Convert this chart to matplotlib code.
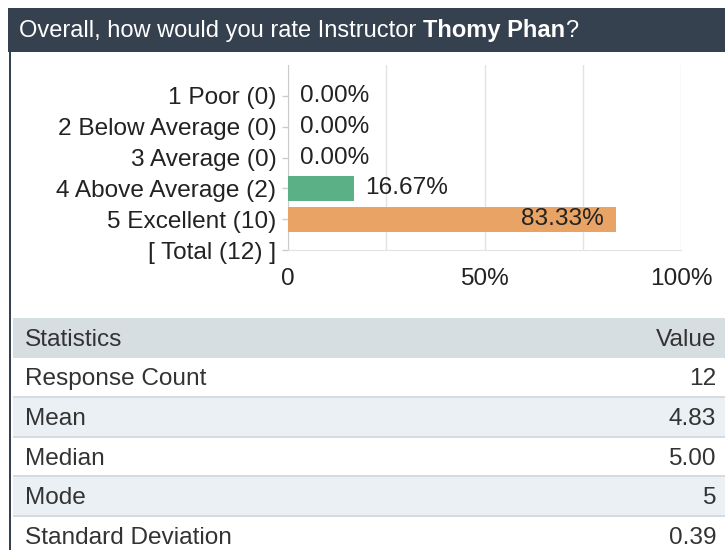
import matplotlib
matplotlib.use("Agg")
import matplotlib.pyplot as plt
from matplotlib.patches import Rectangle
import numpy as np

plt.rcParams['font.family'] = ['Liberation Sans', 'DejaVu Sans']

# ---- data ----
rating_labels = ["1 Poor", "2 Below Average", "3 Average", "4 Above Average", "5 Excellent"]
rating_counts = [0, 0, 0, 2, 10]
bar_colors = ["#5b9bd5", "#d9534f", "#9b59b6", "#5cb085", "#e9a465"]
xtick_values = [0, 0.5, 1.0]
xtick_labels = ["0", "50%", "100%"]
stat_names = ["Response Count", "Mean", "Median", "Mode", "Standard Deviation"]
stat_values = ["12", "4.83", "5.00", "5", "0.39"]
title_plain = "Overall, how would you rate Instructor "
title_bold = "Thomy Phan"
title_end = "?"

W, H = 725, 550
fig = plt.figure(figsize=(W / 100, H / 100), dpi=100)
fig.patch.set_facecolor("white")

def fx(x):
    return x / W

def fy(y):
    return 1 - y / H

DARK = "#36414f"
FS = 17.6
FT = 17

# header
fig.add_artist(Rectangle((fx(8), fy(52)), fx(725 - 8), (52 - 8) / H,
                         transform=fig.transFigure, color=DARK, lw=0, zorder=0))
# left border
fig.add_artist(Rectangle((fx(8.5), 0), 2.5 / W, fy(52),
                         transform=fig.transFigure, color=DARK, lw=0, zorder=0))

# title with bold name
renderer = fig.canvas.get_renderer()
t1 = fig.text(fx(19), fy(31), title_plain, color="white", fontsize=FT, va="center", ha="left")
bb = t1.get_window_extent(renderer=renderer)
t2 = fig.text(bb.x1 / W, fy(31), title_bold, color="white", fontsize=FT,
              fontweight="bold", va="center", ha="left")
bb2 = t2.get_window_extent(renderer=renderer)
fig.text(bb2.x1 / W, fy(31), title_end, color="white", fontsize=FT, va="center", ha="left")

# chart axes
left, right, top, bottom = 288, 681, 65, 250
ax = fig.add_axes([fx(left), fy(bottom), (right - left) / W, (bottom - top) / H])
ax.set_facecolor("white")

total = sum(rating_counts)
pcts = [c / total for c in rating_counts]
cat_labels = [f"{l} ({c})" for l, c in zip(rating_labels, rating_counts)] + [f"[ Total ({total}) ]"]
ypos = np.arange(len(cat_labels))

ax.barh(ypos[:len(pcts)], pcts, height=0.8, color=bar_colors, zorder=3)
ax.set_xlim(0, 1)
ax.set_ylim(5, -1)
ax.set_yticks(ypos)
ax.set_yticklabels(cat_labels, fontsize=FS, color="#222222")
ax.set_xticks(xtick_values)
ax.set_xticklabels(xtick_labels, fontsize=FS, color="#222222")
ax.set_xticks([0.25, 0.75], minor=True)
ax.tick_params(axis="y", length=4.3, width=1, color="#cccccc", pad=4)
ax.tick_params(axis="x", which="both", length=0, pad=13)
ax.grid(axis="x", which="both", color="#e3e3e3", lw=1, zorder=0)
for s in ["top", "right"]:
    ax.spines[s].set_visible(False)
ax.spines["left"].set_color("#cccccc")
ax.spines["bottom"].set_color("#e3e3e3")

for y, p in zip(ypos, pcts):
    txt = f"{p * 100:.2f}%"
    if p > 0.5:
        ax.annotate(txt, (p, y), xytext=(-12, 0), textcoords="offset pixels",
                    ha="right", va="center", fontsize=FS, color="#222222", zorder=4)
    else:
        ax.annotate(txt, (p, y), xytext=(12, 0), textcoords="offset pixels",
                    ha="left", va="center", fontsize=FS, color="#222222", zorder=4)

# statistics table
tx0 = 13
row_top = 318
row_h = 39.6
TXT_DY = 2
fig.add_artist(Rectangle((fx(tx0), fy(row_top + row_h)), fx(W - tx0), row_h / H,
                         transform=fig.transFigure, color="#d6dee2", lw=0))
fig.text(fx(25), fy(row_top + row_h / 2 + TXT_DY), "Statistics", fontsize=FS, color="#333333",
         va="center", ha="left")
fig.text(fx(716), fy(row_top + row_h / 2 + TXT_DY), "Value", fontsize=FS, color="#333333",
         va="center", ha="right")
for i, (n, v) in enumerate(zip(stat_names, stat_values)):
    y0 = row_top + row_h * (i + 1)
    col = "white" if i % 2 == 0 else "#ebf0f4"
    fig.add_artist(Rectangle((fx(tx0), fy(y0 + row_h)), fx(W - tx0), row_h / H,
                             transform=fig.transFigure, color=col, lw=0))
    if i > 0:
        fig.add_artist(Rectangle((fx(tx0), fy(y0 + 1)), fx(W - tx0), 2 / H,
                                 transform=fig.transFigure, color="#d5dbe0", lw=0))
    fig.text(fx(25), fy(y0 + row_h / 2 + TXT_DY), n, fontsize=FS, color="#333333",
             va="center", ha="left")
    fig.text(fx(716), fy(y0 + row_h / 2 + TXT_DY), v, fontsize=FS, color="#333333",
             va="center", ha="right")

fig.savefig("out.png", dpi=100)
